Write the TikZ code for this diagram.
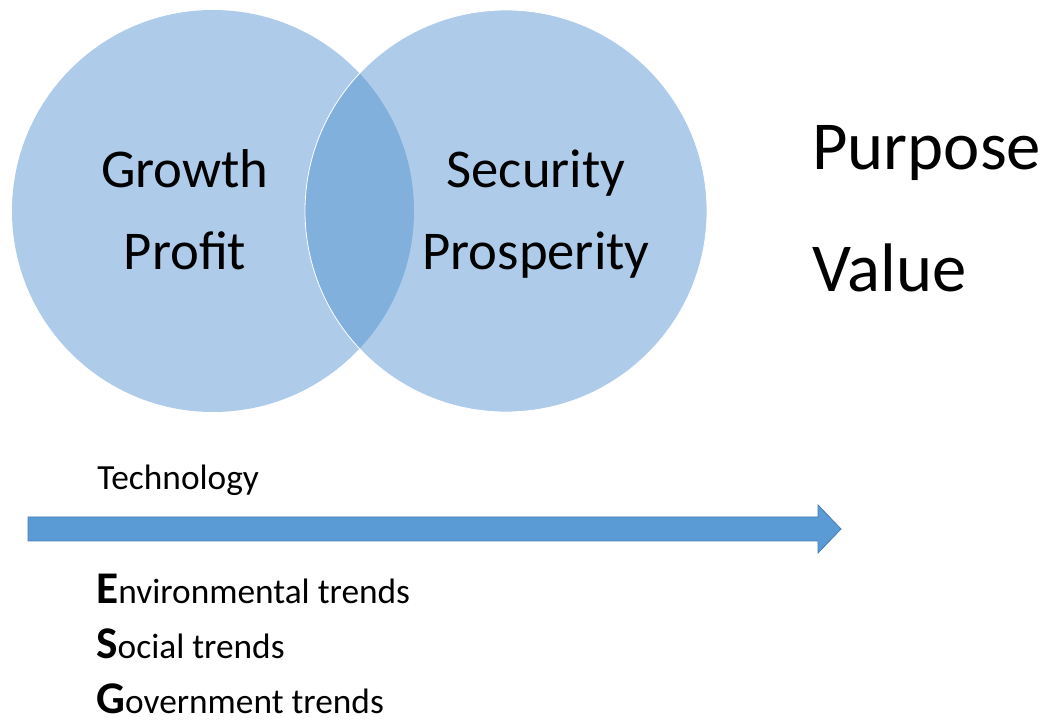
\documentclass[tikz,border=0pt]{standalone}
\usepackage{fontspec}
\setmainfont{Carlito}
\usetikzlibrary{positioning}
\definecolor{circblue}{RGB}{174,203,233}
\definecolor{lensblue}{RGB}{129,176,221}
\definecolor{arrowblue}{RGB}{91,155,213}
\definecolor{arrowedge}{RGB}{70,125,180}
\newcommand\bigini[1]{{\bfseries\fontsize{34}{34}\selectfont #1}}

\begin{document}
\begin{tikzpicture}
[x=0.75pt,y=-0.75pt,
bubble/.style = {circle, fill = circblue, minimum size = 301.5pt, inner sep = 0pt},
inword/.style = {anchor = base, inner sep = 0pt, font = \fontsize{41}{41}\selectfont},
sideword/.style = {anchor = base west, inner sep = 0pt, font = \fontsize{51.5}{51.5}\selectfont},
trend/.style = {anchor = base west, inner sep = 0pt, font = \fontsize{26.5}{26.5}\selectfont},]
\useasboundingbox (0,0) rectangle (1058,723);
\node (G) at (213,211)[bubble] {};
\node (S) at (506,211)[bubble] {};
\begin{scope}
\clip (G.center) circle [radius=150.75pt];
\fill[lensblue] (S.center) circle [radius=150.75pt];
\end{scope}
\draw[white, line width=0.6pt] (S.center) circle [radius=150.75pt];
\node (growth) at (185,188)[inword] {Growth};
\node (profit) at (185,270)[inword] {Profit};
\node (security) at (536,188)[inword] {Security};
\node (prosperity) at (536,270)[inword] {Prosperity};
\node (purpose) at (812,170)[sideword] {Purpose};
\node (value) at (812,292)[sideword] {Value};
\node (tech) at (97,490)[trend] {Technology};
\fill[arrowblue, draw=arrowedge, line width=0.6pt] (28,517) -- (818,517) -- (818,505) -- (841,529) -- (818,553) -- (818,541) -- (28,541) -- cycle;
\node (env) at (96,604)[trend] {\bigini{E}nvironmental trends};
\node (soc) at (96,659)[trend] {\bigini{S}ocial trends};
\node (gov) at (96,714)[trend] {\bigini{G}overnment trends};
\end{tikzpicture}
\end{document}
